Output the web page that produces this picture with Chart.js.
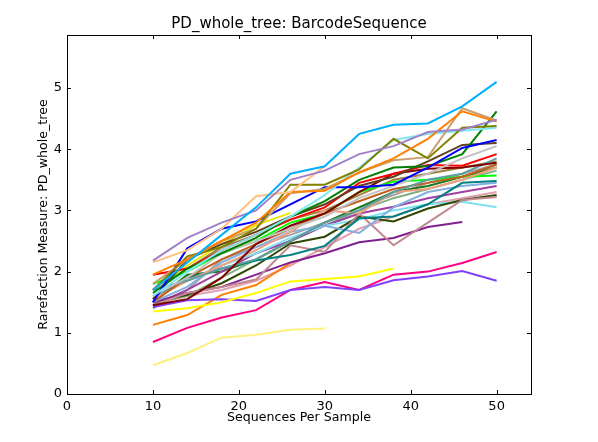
<!DOCTYPE html>
<html>
<head>
<meta charset="utf-8">
<script src="https://cdn.jsdelivr.net/npm/chart.js@4/dist/chart.umd.min.js"></script>
<style>
  html, body { margin: 0; padding: 0; background: #fff; }
  #wrap { width: 598px; height: 442px; }
</style>
</head>
<body>
<div id="wrap"><canvas id="rareChart"></canvas></div>
<script>
// sampling depths (x) and axis ticks
var depths = [10, 14, 18, 22, 26, 30, 34, 38, 42, 46, 50];
var xTicks = [0, 10, 20, 30, 40, 50];
var yTicks = [0, 1, 2, 3, 4, 5];

// one array per sample
var s01 = [1.70, 2.15, 2.60, 3.05, 3.60, 3.72, 4.25, 4.40, 4.42, 4.70, 5.10];
var s02 = [2.18, 2.55, 2.80, 3.00, 3.50, 3.65, 3.92, 4.05, 4.28, 4.32, 4.48];
var s03 = [2.15, 2.35, 2.70, 3.23, 3.30, 3.72];
var s04 = [1.95, 2.20, 2.50, 2.80, 3.30, 3.32, 3.62, 3.85, 4.17, 4.62, 4.45];
var s05 = [1.70, 2.25, 2.40, 2.70, 3.42, 3.42, 3.67, 4.17, 3.85, 4.35, 4.38];
var s06 = [1.80, 2.20, 2.50, 2.70, 3.28, 3.35, 3.62, 3.82, 3.87, 4.67, 4.47];
var s07 = [1.60, 2.00, 2.35, 2.60, 2.90, 3.25, 3.70, 4.15, 4.25, 4.30, 4.35];
var s08 = [1.50, 2.38, 2.70, 2.82, 3.10, 3.38, 3.38, 3.42, 3.70, 4.02, 4.15];
var s09 = [1.65, 2.05, 2.30, 2.55, 2.90, 3.15, 3.50, 3.70, 3.72, 3.92, 4.62];
var s10 = [1.55, 2.20, 2.45, 2.65, 2.90, 3.10, 3.40, 3.55, 3.80, 4.07, 4.10];
var s11 = [1.60, 1.90, 2.30, 2.50, 2.70, 2.90, 3.20, 3.40, 3.60, 3.85, 4.05];
var s12 = [1.95, 2.05, 2.35, 2.60, 2.85, 3.05, 3.45, 3.60, 3.74, 3.73, 3.92];
var s13 = [1.45, 1.55, 1.90, 2.45, 2.75, 2.95, 3.30, 3.60, 3.68, 3.70, 3.78];
var s14 = [1.70, 1.85, 2.05, 2.20, 2.50, 2.80, 3.00, 3.30, 3.50, 3.60, 3.85];
var s15 = [1.50, 1.90, 2.20, 2.45, 2.70, 2.95, 3.15, 3.35, 3.45, 3.55, 3.75];
var s16 = [1.55, 1.85, 2.10, 2.35, 2.65, 3.00, 2.95, 3.30, 3.35, 3.50, 3.70];
var s17 = [1.80, 2.00, 2.30, 2.50, 2.80, 2.95, 3.30, 3.47, 3.50, 3.55, 3.57];
var s18 = [1.55, 1.90, 2.05, 2.18, 2.27, 2.42, 2.87, 2.90, 3.10, 3.45, 3.48];
var s19 = [1.50, 1.75, 2.15, 2.40, 2.65, 2.75, 2.63, 3.05, 3.30, 3.40, 3.45];
var s20 = [1.45, 1.65, 1.75, 1.87, 2.43, 2.32, 2.95, 2.43, 2.80, 3.17, 3.22];
var s21 = [1.50, 1.65, 1.75, 1.95, 2.15, 2.30, 2.48, 2.55, 2.73, 2.81];
var s22 = [1.50, 1.62, 1.81, 2.10, 2.46, 2.57, 2.90, 2.82, 3.03, 3.17, 3.25];
var s23 = [1.60, 1.85, 2.10, 2.30, 2.55, 2.75, 2.85, 3.00, 3.10, 3.14, 3.05];
var s24 = [1.35, 1.40, 1.50, 1.65, 1.84, 1.88, 1.92, 2.05];
var s25 = [1.70, 2.10, 2.45, 2.76, 2.96];
var s26 = [1.42, 1.53, 1.55, 1.52, 1.70, 1.75, 1.70, 1.86, 1.92, 2.01, 1.85];
var s27 = [0.85, 1.08, 1.25, 1.37, 1.70, 1.83, 1.70, 1.95, 2.00, 2.14, 2.32];
var s28 = [1.13, 1.29, 1.62, 1.78, 2.14];
var s29 = [0.47, 0.67, 0.92, 0.97, 1.05, 1.07];
var s30 = [1.45, 1.70, 2.00, 2.30, 2.50, 2.75, 2.95, 3.06, 3.20, 3.30, 3.40];
var s31 = [1.50, 1.60, 1.90, 2.20, 2.50, 2.75, 3.00, 3.20, 3.35, 3.50, 3.65];
var s32 = [1.50, 1.95, 2.00, 2.20, 2.50, 2.80, 3.05, 3.30, 3.40, 3.55, 3.70];
var s33 = [1.40, 1.70, 2.20, 2.40, 2.60, 2.80, 3.05, 3.25, 3.45, 3.60, 3.75];
var s34 = [1.45, 1.60, 1.70, 1.85, 2.10, 2.40, 2.70, 2.90, 3.10, 3.20, 3.30];
var s35 = [1.70, 2.05, 2.40, 2.60, 2.85, 3.00, 3.25, 3.50, 3.60, 3.70, 3.80];

var seriesList = [s01, s02, s03, s04, s05, s06, s07, s08, s09, s10, s11, s12,
    s13, s14, s15, s16, s17, s18, s19, s20, s21, s22, s23, s24, s25, s26,
    s27, s28, s29, s30, s31, s32, s33, s34, s35];

var lineColors = ['#00b0ff', '#a080c8', '#ffc080', '#ff8000', '#808000', '#c8a070',
    '#80e8f0', '#0000ff', '#008000', '#604020', '#c0c0c0', '#ff0000',
    '#800000', '#5f9ea0', '#c06020', '#f0a080', '#00ff00', '#008080',
    '#80b0e0', '#c08890', '#802090', '#304800', '#80e0f0', '#ffff00',
    '#e8e800', '#8040ff', '#ff0080', '#ff8000', '#fff080', '#a040a0',
    '#80b080', '#1a7a1a', '#a0a0a0', '#e0a0b0', '#a08040'];

var FONT = '"DejaVu Sans", sans-serif';

// build the datasets from the arrays above
var datasets = seriesList.map(function (vals, i) {
    return {
        data: vals.map(function (v, j) { return { x: depths[j], y: v }; }),
        borderColor: lineColors[i],
        borderWidth: 2,
        pointRadius: 0,
        fill: false,
        tension: 0
    };
});

// frame, inward ticks on all four sides, title and axis labels
var framePlugin = {
    id: 'frame',
    afterDraw: function (chart) {
        var ctx = chart.ctx;
        var a = chart.chartArea;
        var xs = chart.scales.x, ys = chart.scales.y;
        ctx.save();
        ctx.strokeStyle = '#000';
        ctx.lineWidth = 1;
        ctx.beginPath();
        xTicks.forEach(function (t) {
            var px = Math.round(xs.getPixelForValue(t)) + 0.5;
            ctx.moveTo(px, a.bottom); ctx.lineTo(px, a.bottom - 4);
            ctx.moveTo(px, a.top); ctx.lineTo(px, a.top + 4);
        });
        yTicks.forEach(function (t) {
            var py = Math.round(ys.getPixelForValue(t)) + 0.5;
            ctx.moveTo(a.left, py); ctx.lineTo(a.left + 4, py);
            ctx.moveTo(a.right, py); ctx.lineTo(a.right - 4, py);
        });
        ctx.stroke();
        ctx.strokeRect(Math.round(a.left) + 0.5, Math.round(a.top) + 0.5,
            Math.round(a.right - a.left), Math.round(a.bottom - a.top));

        ctx.fillStyle = '#000';
        ctx.textAlign = 'center';
        ctx.textBaseline = 'middle';
        var cx = (a.left + a.right) / 2;
        ctx.font = '15px ' + FONT;
        ctx.fillText('PD_whole_tree: BarcodeSequence', cx, 24);
        ctx.font = '12.6px ' + FONT;
        ctx.fillText('Sequences Per Sample', cx, 418);
        ctx.translate(44, (a.top + a.bottom) / 2);
        ctx.rotate(-Math.PI / 2);
        ctx.fillText('Rarefaction Measure: PD_whole_tree', 0, 0);
        ctx.restore();
    }
};

new Chart(document.getElementById('rareChart'), {
    type: 'line',
    data: { datasets: datasets },
    options: {
        responsive: true,
        maintainAspectRatio: false,
        animation: false,
        events: [],
        layout: { padding: { top: 35, right: 67, left: 0, bottom: 0 } },
        plugins: { legend: { display: false }, title: { display: false }, tooltip: { enabled: false } },
        scales: {
            x: {
                type: 'linear',
                min: 0,
                max: 54,
                afterBuildTicks: function (scale) {
                    scale.ticks = xTicks.map(function (v) { return { value: v }; });
                },
                afterFit: function (scale) { scale.height = 48; },
                grid: { display: false, drawTicks: false },
                border: { display: false },
                ticks: { color: '#000', font: { family: FONT, size: 13 }, padding: 5, maxRotation: 0 }
            },
            y: {
                type: 'linear',
                min: 0,
                max: 5.866,
                afterBuildTicks: function (scale) {
                    scale.ticks = yTicks.map(function (v) { return { value: v }; });
                },
                afterFit: function (scale) { scale.width = 67; },
                grid: { display: false, drawTicks: false },
                border: { display: false },
                ticks: { color: '#000', font: { family: FONT, size: 13 }, padding: 5 }
            }
        }
    },
    plugins: [framePlugin]
});
</script>
</body>
</html>
